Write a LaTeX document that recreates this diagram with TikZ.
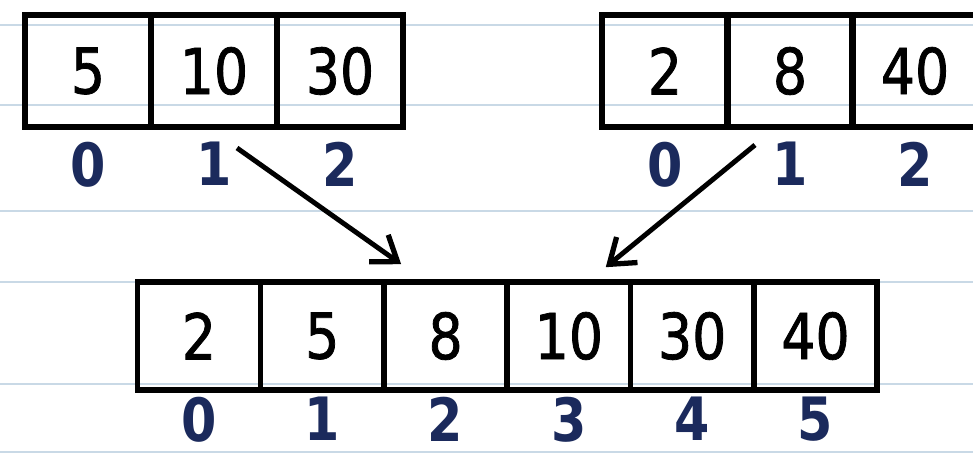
\documentclass[tikz,border=0pt]{standalone}
\usepackage{fontspec}
\setmainfont{DejaVu Sans}[FakeStretch=0.85]
\newfontfamily\cellfont{DejaVu Sans}[FakeStretch=0.85, FakeBold=1.2]
\usetikzlibrary{arrows.meta,positioning}
\definecolor{ruled}{HTML}{C9D9E6}
\definecolor{idxblue}{HTML}{1B2A5C}

\begin{document}
\begin{tikzpicture}[x=0.02cm, y=-0.02cm,
	cell/.style={ draw, line width=3.2pt, minimum width=2.52cm, minimum height=2.24cm, inner sep=0pt, font=\cellfont\fontsize{36}{36}\selectfont },
	cellw/.style={ cell, minimum width=2.466cm, minimum height=2.16cm },
	idx/.style={ text=idxblue, inner sep=0pt, font=\bfseries\fontsize{34}{34}\selectfont },
	arr/.style={ line width=2.8pt, -{Straight Barb[length=0.46cm, width=0.66cm, line width=3pt]} }
]

\useasboundingbox (0,0) rectangle (973,455);
\fill[white] (0,0) rectangle (973,455);
\foreach \y in {25,105,211,282,384,452} \draw[ruled, line width=1.6pt] (0,\y) -- (973,\y);

% first half
\foreach \v [count=\i from 0] in {5,10,30} \node[cell] at (88+126*\i,71) (a\i) {\v};
\foreach \i in {0,1,2} \node[idx, below=7pt of a\i] (la\i) {\i};

% second half
\foreach \v [count=\i from 0] in {2,8,40} \node[cell] at (665+125*\i,71) (b\i) {\v};
\foreach \i in {0,1,2} \node[idx, below=7pt of b\i] (lb\i) {\i};

% merged
\foreach \v [count=\i from 0] in {2,5,8,10,30,40} \node[cellw] at (199+123.3*\i,336) (c\i) {\v};
\foreach \i in {0,...,5} \node[idx, below=2pt of c\i] (lc\i) {\i};

\coordinate (p1) at (237,148);
\coordinate (p2) at (755,145);
\draw[arr] (p1) to ([shift={(20,-15)}]c2.north west);
\draw[arr] (p2) to ([shift={(-22,-12)}]c4.north west);

\end{tikzpicture}
\end{document}
